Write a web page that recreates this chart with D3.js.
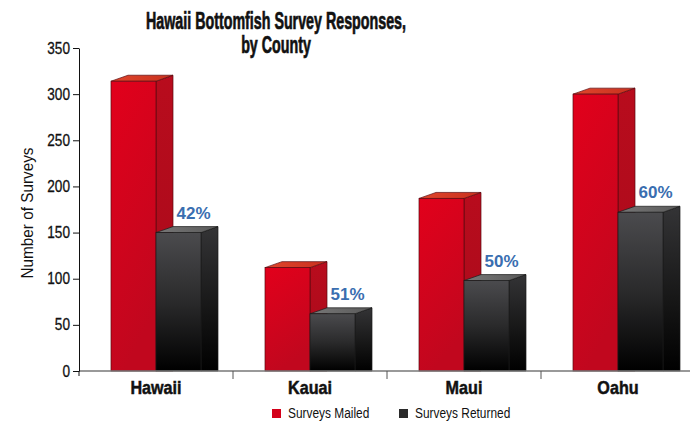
<!DOCTYPE html>
<html>
<head>
<meta charset="utf-8">
<script src="https://cdnjs.cloudflare.com/ajax/libs/d3/7.8.5/d3.min.js"></script>
<style>
  body { margin: 0; background: #fff; }
  text { font-family: "Liberation Sans", Arial, sans-serif; }
</style>
</head>
<body>
<svg id="chart"></svg>
<script>
var counties = ["Hawaii", "Kauai", "Maui", "Oahu"];
var mailed = [314, 112, 187, 300];
var returned = [150, 62, 98, 172];
var pctLabels = ["42%", "51%", "50%", "60%"];
var yTicks = [0, 50, 100, 150, 200, 250, 300, 350];
var seriesNames = ["Surveys Mailed", "Surveys Returned"];

var width = 690;
var height = 422;
var plotLeft = 79;
var plotTop = 48;
var plotBottom = 371;
var barW = 45;
var dx = 17;
var dy = 6;

var svg = d3.select("#chart").attr("width", width).attr("height", height);

// condensed look: squeeze each text horizontally
function squeeze(sel, f) {
  sel.each(function () {
    var w = this.getComputedTextLength();
    d3.select(this).attr("textLength", w * f).attr("lengthAdjust", "spacingAndGlyphs");
  });
}

var defs = svg.append("defs");
function grad(id, x2, y2, stops) {
  var g = defs.append("linearGradient").attr("id", id)
    .attr("x1", 0).attr("y1", 0).attr("x2", x2).attr("y2", y2);
  stops.forEach((s) => {
    g.append("stop").attr("offset", s[0]).attr("stop-color", s[1]);
  });
}
grad("redFront", 0.3, 1, [[0, "#e2001b"], [1, "#c1071e"]]);
grad("redSide", 0, 1, [[0, "#b80c1d"], [1, "#a80a1a"]]);
grad("redTop", 1, 0, [[0, "#e0462c"], [1, "#c8301e"]]);
grad("blkFront", 0, 1, [[0, "#4b4b4e"], [0.5, "#2a2a2b"], [1, "#000"]]);
grad("blkSide", 0, 1, [[0, "#343436"], [0.6, "#151515"], [1, "#000"]]);
grad("blkTop", 1, 0, [[0, "#777"], [1, "#5a5a5a"]]);

var xScale = d3.scaleBand().domain(counties).range([plotLeft, plotLeft + 616]);
var yScale = d3.scaleLinear().domain([0, 350]).range([plotBottom, plotTop]);

// title
var t1 = svg.append("text").attr("x", 276).attr("y", 29).attr("text-anchor", "middle")
  .attr("font-size", 23).attr("font-weight", "bold").attr("fill", "#111")
  .attr("stroke", "#111").attr("stroke-width", 0.7)
  .text("Hawaii Bottomfish Survey Responses,");
var t2 = svg.append("text").attr("x", 276).attr("y", 53).attr("text-anchor", "middle")
  .attr("font-size", 23).attr("font-weight", "bold").attr("fill", "#111")
  .attr("stroke", "#111").attr("stroke-width", 0.7)
  .text("by County");
squeeze(t1, 0.62);
squeeze(t2, 0.62);

// bars
function drawBar(x, v, kind, stroke) {
  var y0 = yScale(0);
  var y1 = yScale(v);
  var g = svg.append("g");
  g.append("path")
    .attr("d", "M" + (x + barW) + "," + y0 + "L" + (x + barW + dx) + "," + y0 +
      "L" + (x + barW + dx) + "," + (y1 - dy) + "L" + (x + barW) + "," + y1 + "Z")
    .attr("fill", "url(#" + kind + "Side)").attr("stroke", stroke).attr("stroke-width", 0.7);
  g.append("path")
    .attr("d", "M" + x + "," + y1 + "L" + (x + dx) + "," + (y1 - dy) +
      "L" + (x + barW + dx) + "," + (y1 - dy) + "L" + (x + barW) + "," + y1 + "Z")
    .attr("fill", "url(#" + kind + "Top)").attr("stroke", stroke).attr("stroke-width", 0.7);
  g.append("rect").attr("x", x).attr("y", y1).attr("width", barW).attr("height", y0 - y1)
    .attr("fill", "url(#" + kind + "Front)").attr("stroke", stroke).attr("stroke-width", 0.7);
}

counties.forEach((c, i) => {
  var cx = xScale(c) + xScale.bandwidth() / 2;
  drawBar(cx - barW, mailed[i], "red", "#5a0a10");
  drawBar(cx, returned[i], "blk", "#1a1a1a");
  svg.append("text").attr("x", cx + barW / 2 + 15).attr("y", yScale(returned[i]) - 14)
    .attr("text-anchor", "middle").attr("font-size", 17).attr("font-weight", "bold")
    .attr("fill", "#3a6eb0").text(pctLabels[i]);
});

// x axis
svg.append("line").attr("x1", plotLeft).attr("x2", width).attr("y1", plotBottom).attr("y2", plotBottom)
  .attr("stroke", "#777").attr("stroke-width", 1.5);
counties.slice(1).forEach((c) => {
  svg.append("line").attr("x1", xScale(c)).attr("x2", xScale(c))
    .attr("y1", plotBottom).attr("y2", plotBottom + 8).attr("stroke", "#555").attr("stroke-width", 1);
});
var xl = svg.selectAll(".xlab").data(counties).enter().append("text")
  .attr("x", (d) => xScale(d) + xScale.bandwidth() / 2).attr("y", 394)
  .attr("text-anchor", "middle").attr("font-size", 19).attr("font-weight", "bold")
  .attr("fill", "#111").attr("stroke", "#111").attr("stroke-width", 0.5).text((d) => d);
squeeze(xl, 0.85);

// y axis
var yAxis = d3.axisLeft(yScale).tickValues(yTicks).tickSize(6).tickSizeOuter(0);
var ya = svg.append("g").attr("transform", "translate(" + plotLeft + ",0)").call(yAxis);
ya.select(".domain").attr("stroke", "#111");
ya.selectAll("line").attr("stroke", "#111");
var yl = ya.selectAll("text").attr("font-size", 16).attr("fill", "#111").attr("x", -9)
  .attr("stroke", "#111").attr("stroke-width", 0.3)
  .style("font-family", "'Liberation Sans', Arial, sans-serif");
squeeze(yl, 0.85);
ya.append("line").attr("x1", 0).attr("x2", 0).attr("y1", plotBottom).attr("y2", plotBottom + 5).attr("stroke", "#111");

var yt = svg.append("text").attr("transform", "translate(33,213) rotate(-90)")
  .attr("text-anchor", "middle").attr("font-size", 17).attr("fill", "#111")
  .text("Number of Surveys");
squeeze(yt, 0.9);

// legend
var legX = [272, 399];
var legFill = ["#d4001a", "#2a2a2a"];
seriesNames.forEach((s, i) => {
  svg.append("rect").attr("x", legX[i]).attr("y", 409).attr("width", 9).attr("height", 9)
    .attr("fill", legFill[i]);
  var lt = svg.append("text").attr("x", legX[i] + 16).attr("y", 418).attr("font-size", 14)
    .attr("fill", "#111").text(s);
  squeeze(lt, 0.85);
});
</script>
</body>
</html>
